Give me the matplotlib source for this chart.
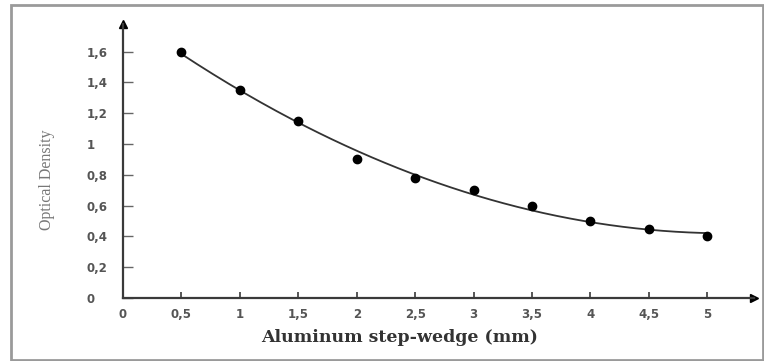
import numpy as np
import matplotlib
matplotlib.use("Agg")
import matplotlib.pyplot as plt
from matplotlib.patches import Rectangle

# ---------------------------------------------------------------------------
# Data
# ---------------------------------------------------------------------------
thickness_mm = [0.5, 1.0, 1.5, 2.0, 2.5, 3.0, 3.5, 4.0, 4.5, 5.0]
optical_density = [1.60, 1.35, 1.15, 0.90, 0.78, 0.70, 0.60, 0.50, 0.45, 0.40]

x_ticks = [0, 0.5, 1, 1.5, 2, 2.5, 3, 3.5, 4, 4.5, 5]
x_tick_labels = ["0", "0,5", "1", "1,5", "2", "2,5", "3", "3,5", "4", "4,5", "5"]
y_ticks = [0, 0.2, 0.4, 0.6, 0.8, 1.0, 1.2, 1.4, 1.6]
y_tick_labels = ["0", "0,2", "0,4", "0,6", "0,8", "1", "1,2", "1,4", "1,6"]

W, H = 764, 361
AXIS_COL = "#3a3a3a"
TEXT_COL = "#555555"

fig = plt.figure(figsize=(W / 100, H / 100), dpi=100)
fig.patch.set_facecolor("white")

# outer grey frame
fig.patches.append(Rectangle((11 / W, 1 / H), (W - 12) / W, (H - 6) / H,
                             transform=fig.transFigure, fill=False,
                             edgecolor="#9a9a9a", linewidth=2.0))

ax = fig.add_axes([123 / W, 63 / H, 631 / W, 274 / H])
ax.set_xlim(0, 5.4)
ax.set_ylim(0, 1.78)

# trend line: quadratic polynomial fit of OD against thickness
x = np.array(thickness_mm)
y = np.array(optical_density)
coef = np.polyfit(x, y, 2)
xs = np.linspace(x.min(), x.max(), 200)
ax.plot(xs, np.polyval(coef, xs), color="#333333", lw=1.3, zorder=2)
ax.plot(x, y, "o", color="black", ms=6, zorder=3)

# axes styling with arrowheads
for side in ("top", "right"):
    ax.spines[side].set_visible(False)
for side in ("left", "bottom"):
    ax.spines[side].set_color(AXIS_COL)
    ax.spines[side].set_linewidth(1.6)
ax.plot(1, 0, ">", color="black", ms=6, transform=ax.get_yaxis_transform(), clip_on=False)
ax.plot(0, 1, "^", color="black", ms=6, transform=ax.get_xaxis_transform(), clip_on=False)

ax.set_xticks(x_ticks)
ax.set_xticklabels(x_tick_labels, fontweight="bold", fontsize=8.5, color=TEXT_COL)
ax.set_yticks(y_ticks)
ax.set_yticklabels(y_tick_labels, fontweight="bold", fontsize=8.5, color=TEXT_COL,
                   ha="left")
ax.tick_params(axis="x", direction="in", length=4, width=1.2, color=AXIS_COL, pad=7)
ax.tick_params(axis="y", direction="in", length=7, width=1.0, color="#666666", pad=26)

fig.text(47 / W, 1 - 180 / H, "Optical Density", rotation=90, ha="center", va="center",
         family="Liberation Serif", fontsize=11.5, color="#777777")
fig.text(400 / W, 1 - 338 / H, "Aluminum step-wedge (mm)", ha="center", va="center",
         family="DejaVu Serif", fontweight="bold", fontsize=12.5, color="#333333")

fig.savefig("out.png", dpi=100)
